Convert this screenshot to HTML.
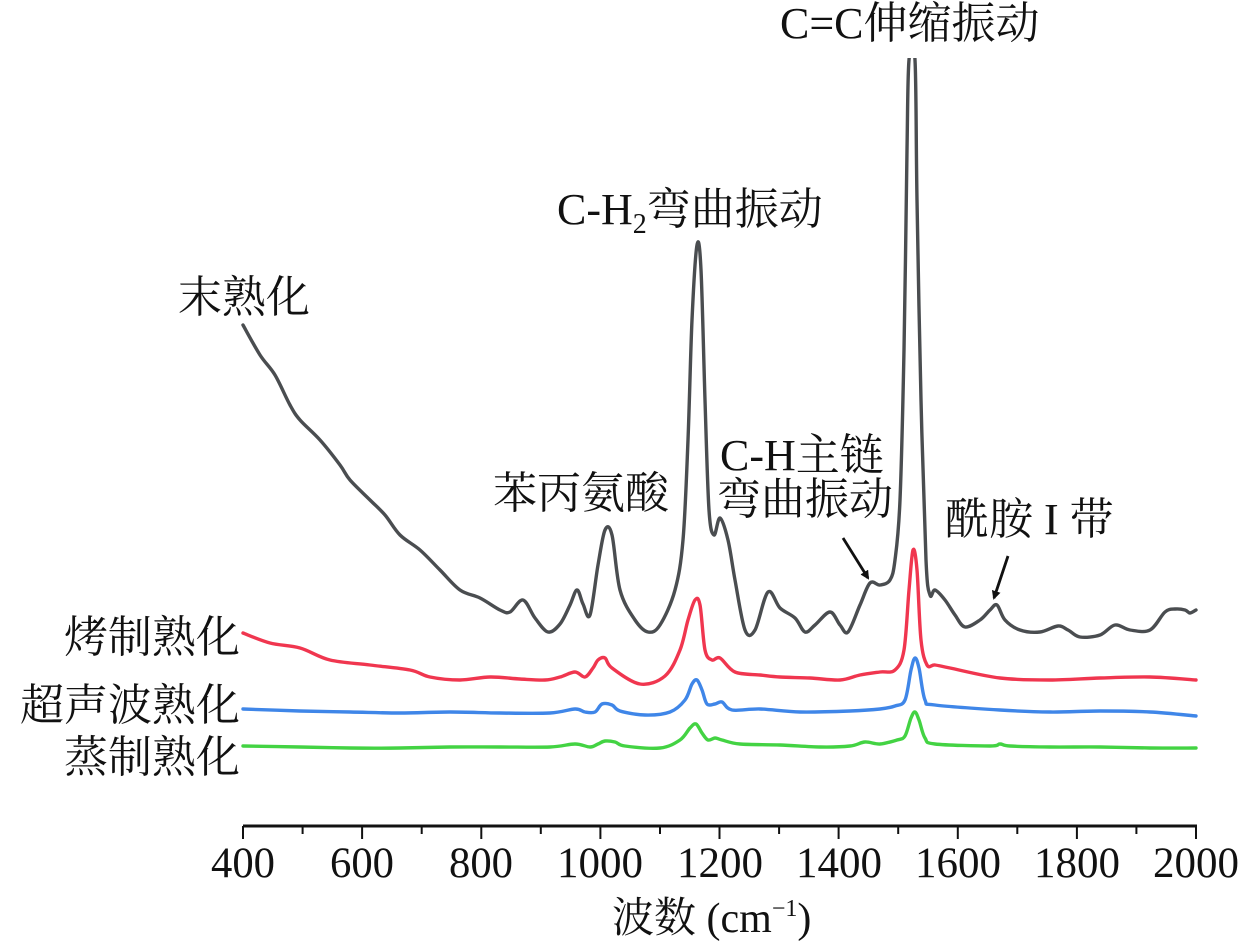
<!DOCTYPE html>
<html><head><meta charset="utf-8"><style>
html,body{margin:0;padding:0;background:#fff}
svg{display:block}
text{font-family:"Liberation Serif","Noto Serif CJK SC","Noto Sans CJK SC",serif;fill:#111}
</style></head><body>
<svg id="s" width="1260" height="948" viewBox="0 0 1260 948" xmlns="http://www.w3.org/2000/svg">
<defs>
<marker id="ah" markerWidth="9" markerHeight="9" refX="7" refY="4.5" orient="auto" markerUnits="userSpaceOnUse">
<path d="M0,0 L9,4.5 L0,9 z" fill="#111"/></marker>
<clipPath id="cp"><rect x="0" y="58" width="1260" height="890"/></clipPath>
</defs>
<g fill="none" stroke-width="3.4" stroke-linejoin="round" stroke-linecap="round" clip-path="url(#cp)">
<polyline class="sm" stroke="#4a4d50" points="243,325 260,355 275,375 290,405 300,420 320,440 340,465 350,480 370,500 385,515 400,535 420,550 440,570 460,590 480,598 500,610 510,612 523,600 535,618 548,632 560,624 570,605 577,590 583,604 590,615 598,565 605,530 612,535 620,590 635,620 648,632 660,625 675,590 683,540 688,440 692,320 697,245 701,270 705,400 709,510 714,535 720,518 728,540 735,580 745,630 755,630 768,592 780,608 795,618 805,632 815,625 830,612 840,625 848,632 860,605 870,583 880,585 890,580 895,560 900,500 904,350 907,150 909,60 915,60 917,200 921,400 926,560 930,595 935,590 945,600 955,615 965,627 980,620 990,610 997,605 1005,620 1020,630 1040,632 1058,626 1068,630 1080,637 1100,635 1115,625 1130,630 1150,630 1165,612 1175,609 1185,610 1190,613 1196,610"/>
<polyline class="sm" stroke="#f0364f" points="243,633 270,643 300,648 330,660 370,665 410,670 430,677 460,680 490,677 520,679 545,680 560,677 575,672 585,677 593,668 598,660 605,658 612,668 640,684 665,676 680,650 688,620 695,600 700,605 705,650 712,660 720,658 735,672 760,675 780,677 810,678 840,680 860,675 880,672 895,670 904,650 909,590 913,550 917,570 921,640 927,665 935,665 950,668 1000,678 1050,680 1100,678 1150,677 1196,680"/>
<polyline class="sm" stroke="#3f86e8" points="243,709 300,711 350,712 400,713 450,712 500,713 550,713 575,709 585,712 595,712 602,704 612,705 620,711 645,715 670,712 685,700 692,684 697,680 702,690 707,704 715,704 722,702 732,710 760,709 800,712 850,711 880,709 895,706 905,700 911,670 915,658 919,668 925,700 935,705 1000,710 1050,712 1100,711 1150,712 1196,716"/>
<polyline class="sm" stroke="#43d343" points="243,746 300,747 350,748 400,748 450,747 500,747 550,747 575,744 590,747 598,744 605,741 615,742 625,746 660,748 680,740 690,728 696,724 702,733 708,740 715,738 722,740 740,744 780,745 820,747 850,746 865,742 880,744 897,740 905,736 911,718 915,712 919,720 925,738 935,744 990,746 1000,744 1010,746 1050,747 1100,747 1150,748 1196,748"/>
</g>
<line x1="243" y1="826" x2="1197" y2="826" stroke="#111" stroke-width="3"/>
<g stroke="#111" stroke-width="2">
<line x1="243" y1="826" x2="243" y2="839"/><line x1="302.6" y1="826" x2="302.6" y2="834"/>
<line x1="362.1" y1="826" x2="362.1" y2="839"/><line x1="421.7" y1="826" x2="421.7" y2="834"/>
<line x1="481.3" y1="826" x2="481.3" y2="839"/><line x1="540.8" y1="826" x2="540.8" y2="834"/>
<line x1="600.4" y1="826" x2="600.4" y2="839"/><line x1="660" y1="826" x2="660" y2="834"/>
<line x1="719.5" y1="826" x2="719.5" y2="839"/><line x1="779.1" y1="826" x2="779.1" y2="834"/>
<line x1="838.6" y1="826" x2="838.6" y2="839"/><line x1="898.2" y1="826" x2="898.2" y2="834"/>
<line x1="957.8" y1="826" x2="957.8" y2="839"/><line x1="1017.3" y1="826" x2="1017.3" y2="834"/>
<line x1="1076.9" y1="826" x2="1076.9" y2="839"/><line x1="1136.4" y1="826" x2="1136.4" y2="834"/>
<line x1="1196" y1="826" x2="1196" y2="839"/>
</g>
<g font-size="43" text-anchor="middle">
<text x="243" y="877" textLength="64" lengthAdjust="spacingAndGlyphs">400</text>
<text x="362" y="877" textLength="64" lengthAdjust="spacingAndGlyphs">600</text>
<text x="481" y="877" textLength="64" lengthAdjust="spacingAndGlyphs">800</text>
<text x="600" y="877" textLength="86" lengthAdjust="spacingAndGlyphs">1000</text>
<text x="720" y="877" textLength="86" lengthAdjust="spacingAndGlyphs">1200</text>
<text x="839" y="877" textLength="86" lengthAdjust="spacingAndGlyphs">1400</text>
<text x="958" y="877" textLength="86" lengthAdjust="spacingAndGlyphs">1600</text>
<text x="1077" y="877" textLength="86" lengthAdjust="spacingAndGlyphs">1800</text>
<text x="1196" y="877" textLength="86" lengthAdjust="spacingAndGlyphs">2000</text>
</g>
<text x="612" y="932" font-size="42">波数 (cm<tspan font-size="24" dy="-16">−1</tspan><tspan dy="16">)</tspan></text>
<g font-size="44">
<text x="178" y="312">末熟化</text>
<text x="240" y="652" text-anchor="end">烤制熟化</text>
<text x="240" y="720" text-anchor="end">超声波熟化</text>
<text x="240" y="772" text-anchor="end">蒸制熟化</text>
<text x="780" y="38">C=C伸缩振动</text>
<text x="557" y="224">C-H<tspan font-size="28" dy="9">2</tspan><tspan dy="-9">弯曲振动</tspan></text>
<text x="493" y="508">苯丙氨酸</text>
<text x="720" y="470">C-H主链</text>
<text x="717" y="514">弯曲振动</text>
<text x="945" y="534">酰胺 I 带</text>
</g>
<g stroke="#111" stroke-width="2.8">
<line x1="843" y1="538" x2="868" y2="578" marker-end="url(#ah)"/>
<line x1="1008" y1="556" x2="994" y2="598" marker-end="url(#ah)"/>
</g>
</svg>
<script>
document.querySelectorAll('polyline.sm').forEach(function(pl){
  var p=pl.getAttribute('points').trim().split(/\s+/).map(function(s){return s.split(',').map(Number);});
  var d='M'+p[0][0]+','+p[0][1];
  for(var i=0;i<p.length-1;i++){
    var p0=p[i-1]||p[i],p1=p[i],p2=p[i+1],p3=p[i+2]||p2;
    var c1x=p1[0]+(p2[0]-p0[0])/6,c1y=p1[1]+(p2[1]-p0[1])/6;
    var c2x=p2[0]-(p3[0]-p1[0])/6,c2y=p2[1]-(p3[1]-p1[1])/6;
    d+=' C'+c1x.toFixed(1)+','+c1y.toFixed(1)+' '+c2x.toFixed(1)+','+c2y.toFixed(1)+' '+p2[0]+','+p2[1];
  }
  var path=document.createElementNS('http://www.w3.org/2000/svg','path');
  path.setAttribute('d',d);path.setAttribute('stroke',pl.getAttribute('stroke'));
  pl.parentNode.replaceChild(path,pl);
});
</script>
</body></html>
